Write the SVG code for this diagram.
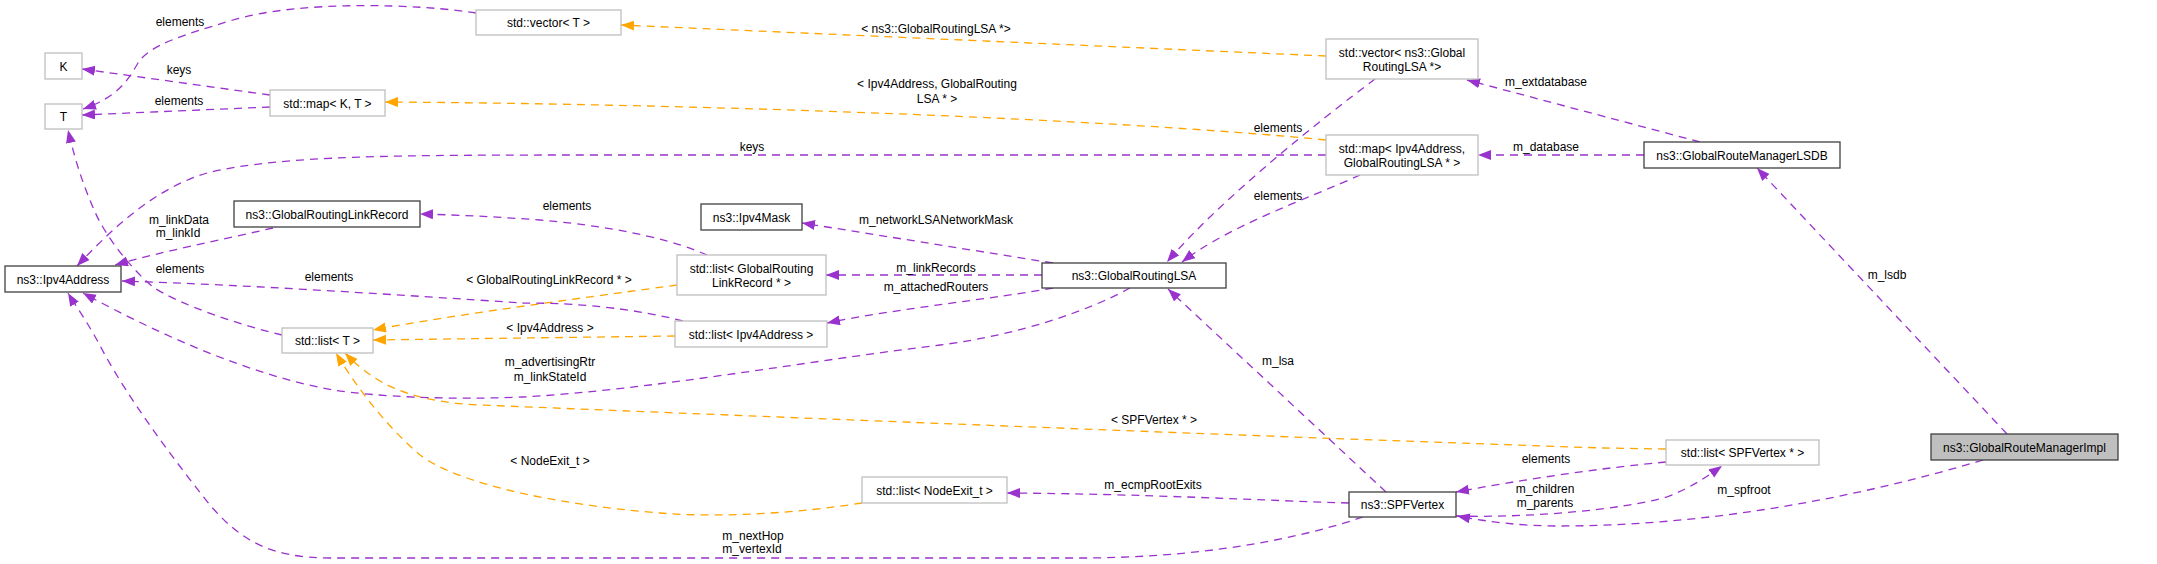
<svg xmlns="http://www.w3.org/2000/svg" width="2157" height="564" viewBox="0 0 2157 564">
<style>
text{font-family:"Liberation Sans",Arial,sans-serif;font-size:12px;text-anchor:middle;fill:#000}
.g rect{fill:#fff;stroke:#bfbfbf;stroke-width:1.3}
.b rect{fill:#fff;stroke:#404040;stroke-width:1.3}
.m rect{fill:#bfbfbf;stroke:#404040;stroke-width:1.3}
.p{fill:none;stroke:#9a32cd;stroke-width:1.3;stroke-dasharray:8,6;marker-end:url(#ap)}
.o{fill:none;stroke:#ffa500;stroke-width:1.3;stroke-dasharray:8,6;marker-end:url(#ao)}
</style>
<defs>
<marker id="ap" markerUnits="userSpaceOnUse" markerWidth="14" markerHeight="11" refX="13" refY="5" orient="auto"><path d="M0,0L13,5L0,10z" fill="#9a32cd"/></marker>
<marker id="ao" markerUnits="userSpaceOnUse" markerWidth="14" markerHeight="11" refX="13" refY="5" orient="auto"><path d="M0,0L13,5L0,10z" fill="#ffa500"/></marker>
</defs>
<rect width="2157" height="564" fill="#fff"/>
<g id="edges">
<path class="p" d="M476,13 C420,4 300,0 233,20 C180,36 150,45 138,63 C128,80 118,97 83,109"/>
<text x="180" y="26">elements</text>
<path class="p" d="M270,95 L82,69"/>
<text x="179" y="74">keys</text>
<path class="p" d="M270,107 L82,115"/>
<text x="179" y="105">elements</text>
<path class="o" d="M1326,56 L621,25"/>
<text x="936" y="33">&lt; ns3::GlobalRoutingLSA *&gt;</text>
<path class="o" d="M1326,140 C1100,118 700,104 385,102"/>
<text x="937" y="88">&lt; Ipv4Address, GlobalRouting</text>
<text x="937" y="103">LSA * &gt;</text>
<path class="p" d="M1326,155 L600,155 C400,155 280,155 207,173 C160,187 120,220 77,266"/>
<text x="752" y="151">keys</text>
<path class="p" d="M1375,79 C1320,120 1220,200 1167,262"/>
<text x="1278" y="132">elements</text>
<path class="p" d="M1360,175 C1310,198 1230,225 1182,262"/>
<text x="1278" y="200">elements</text>
<path class="p" d="M1700,142 L1467,80"/>
<text x="1546" y="86">m_extdatabase</text>
<path class="p" d="M1644,155 L1478,155"/>
<text x="1546" y="151">m_database</text>
<path class="p" d="M2007,434 L1757,168"/>
<text x="1887" y="279">m_lsdb</text>
<path class="p" d="M1983,460 C1850,500 1700,526 1560,526 C1520,526 1490,522 1457,516"/>
<text x="1744" y="494">m_spfroot</text>
<path class="p" d="M1666,462 C1600,468 1520,480 1456,492"/>
<text x="1546" y="463">elements</text>
<path class="p" d="M1456,516 C1530,518 1620,510 1667,497 C1690,488 1705,478 1722,466"/>
<text x="1545" y="493">m_children</text>
<text x="1545" y="507">m_parents</text>
<path class="o" d="M1666,449 L1603,448 C1300,438 800,418 480,405 C420,402 380,390 345,353"/>
<text x="1154" y="424">&lt; SPFVertex * &gt;</text>
<path class="o" d="M862,503 C800,513 720,518 660,513 C560,505 460,485 420,455 C385,425 355,385 336,353"/>
<text x="550" y="465">&lt; NodeExit_t &gt;</text>
<path class="o" d="M677,285 C620,293 450,315 373,330"/>
<text x="549" y="284">&lt; GlobalRoutingLinkRecord * &gt;</text>
<path class="o" d="M675,336 L373,340"/>
<text x="550" y="332">&lt; Ipv4Address &gt;</text>
<path class="p" d="M282,335 C240,325 180,305 153,287 C130,268 105,235 95,212 C83,185 75,160 68,130"/>
<text x="180" y="273">elements</text>
<path class="p" d="M683,321 C620,305 560,303 523,303 C400,295 250,285 122,281"/>
<text x="329" y="281">elements</text>
<path class="p" d="M707,255 C680,243 630,228 540,220 C500,217 460,215 420,214"/>
<text x="567" y="210">elements</text>
<path class="p" d="M273,228 C220,240 160,252 115,265"/>
<text x="179" y="224">m_linkData</text>
<text x="178" y="237">m_linkId</text>
<path class="p" d="M1053,263 L802,223"/>
<text x="936" y="224">m_networkLSANetworkMask</text>
<path class="p" d="M1042,275 L826,275"/>
<text x="936" y="272">m_linkRecords</text>
<path class="p" d="M1053,288 C1000,298 900,308 827,323"/>
<text x="936" y="291">m_attachedRouters</text>
<path class="p" d="M1130,288 C1090,310 1020,335 940,345 C800,362 650,390 523,397 C450,400 380,397 333,390 C250,375 160,335 83,293"/>
<text x="550" y="366">m_advertisingRtr</text>
<text x="550" y="381">m_linkStateId</text>
<path class="p" d="M1386,492 L1168,289"/>
<text x="1278" y="365">m_lsa</text>
<path class="p" d="M1349,503 C1250,500 1150,494 1007,493"/>
<text x="1153" y="489">m_ecmpRootExits</text>
<path class="p" d="M1363,517 C1280,545 1180,558 1080,558 L330,558 C270,558 240,540 210,505 C170,455 130,400 105,355 C88,322 75,305 68,293"/>
<text x="753" y="540">m_nextHop</text>
<text x="752" y="553">m_vertexId</text>
</g>
<g id="n_K" class="g"><rect x="45" y="53" width="37" height="26"/><text x="63.5" y="70.5">K</text></g>
<g id="n_T" class="g"><rect x="45" y="104" width="37" height="25"/><text x="63.5" y="121">T</text></g>
<g id="n_mapKT" class="g"><rect x="270" y="90" width="115" height="26"/><text x="327.5" y="107.5">std::map&lt; K, T &gt;</text></g>
<g id="n_vecT" class="g"><rect x="476" y="10" width="145" height="25"/><text x="548.5" y="27">std::vector&lt; T &gt;</text></g>
<g id="n_GRLR" class="b"><rect x="234" y="201" width="186" height="26"/><text x="327" y="218.5">ns3::GlobalRoutingLinkRecord</text></g>
<g id="n_Ipv4Address" class="b"><rect x="5" y="266" width="116" height="26"/><text x="63" y="283.5">ns3::Ipv4Address</text></g>
<g id="n_Ipv4Mask" class="b"><rect x="701" y="204" width="101" height="26"/><text x="751.5" y="221.5">ns3::Ipv4Mask</text></g>
<g id="n_listGRLR" class="g"><rect x="677" y="255" width="149" height="40"/><text x="751.5" y="272.5">std::list&lt; GlobalRouting</text><text x="751.5" y="286.5">LinkRecord * &gt;</text></g>
<g id="n_LSA" class="b"><rect x="1042" y="263" width="184" height="25"/><text x="1134" y="280">ns3::GlobalRoutingLSA</text></g>
<g id="n_vecLSA" class="g"><rect x="1326" y="39" width="152" height="40"/><text x="1402" y="56.5">std::vector&lt; ns3::Global</text><text x="1402" y="70.5">RoutingLSA *&gt;</text></g>
<g id="n_mapLSA" class="g"><rect x="1326" y="135" width="152" height="40"/><text x="1402" y="152.5">std::map&lt; Ipv4Address,</text><text x="1402" y="166.5">GlobalRoutingLSA * &gt;</text></g>
<g id="n_LSDB" class="b"><rect x="1644" y="142" width="196" height="26"/><text x="1742" y="159.5">ns3::GlobalRouteManagerLSDB</text></g>
<g id="n_listT" class="g"><rect x="282" y="328" width="91" height="25"/><text x="327.5" y="345">std::list&lt; T &gt;</text></g>
<g id="n_listIpv4" class="g"><rect x="675" y="321" width="152" height="26"/><text x="751" y="338.5">std::list&lt; Ipv4Address &gt;</text></g>
<g id="n_listNodeExit" class="g"><rect x="862" y="477" width="145" height="26"/><text x="934.5" y="494.5">std::list&lt; NodeExit_t &gt;</text></g>
<g id="n_SPFVertex" class="b"><rect x="1349" y="492" width="107" height="25"/><text x="1402.5" y="509">ns3::SPFVertex</text></g>
<g id="n_listSPF" class="g"><rect x="1666" y="440" width="153" height="25"/><text x="1742.5" y="457">std::list&lt; SPFVertex * &gt;</text></g>
<g id="n_Impl" class="m"><rect x="1931" y="434" width="187" height="26"/><text x="2024.5" y="451.5">ns3::GlobalRouteManagerImpl</text></g>
</svg>
